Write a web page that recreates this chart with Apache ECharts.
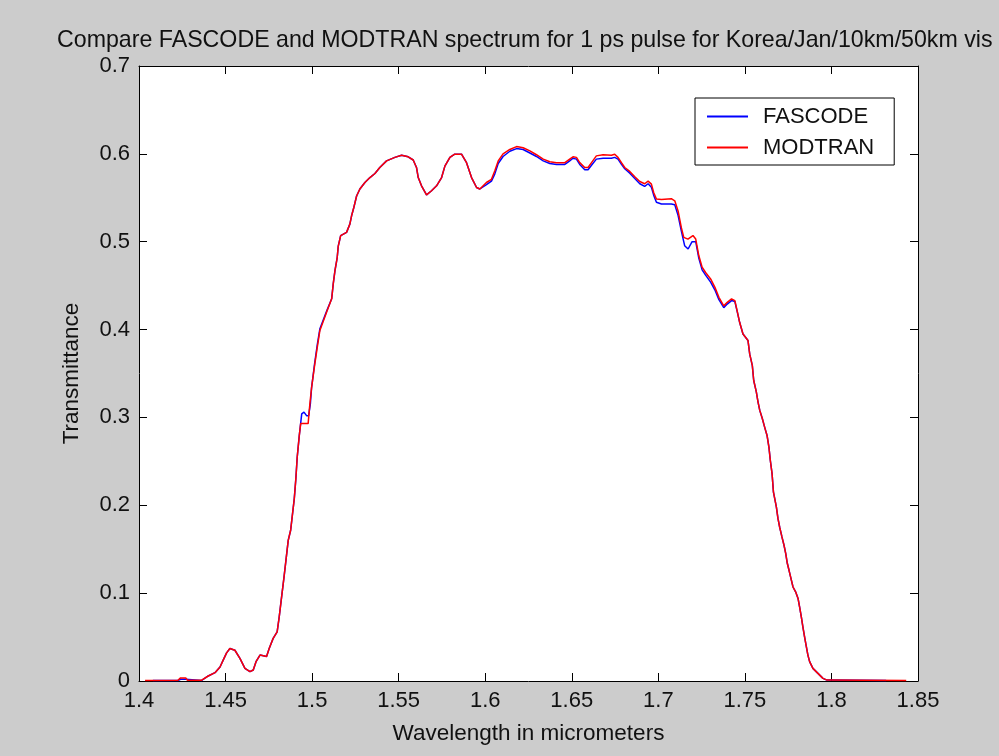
<!DOCTYPE html>
<html>
<head>
<meta charset="utf-8">
<script src="https://cdn.jsdelivr.net/npm/echarts@6/dist/echarts.min.js"></script>
<style>
html,body{margin:0;padding:0;background:#cccccc;}
#chart{width:999px;height:756px;}
</style>
</head>
<body>
<div id="chart"></div>
<script>
var titleText = "Compare FASCODE and MODTRAN spectrum for 1 ps pulse for Korea/Jan/10km/50km vis";
var xName = "Wavelength in micrometers";
var yName = "Transmittance";
var seriesNames = ["FASCODE", "MODTRAN"];
var xTicks = [1.4, 1.45, 1.5, 1.55, 1.6, 1.65, 1.7, 1.75, 1.8, 1.85];
var yTicks = [0, 0.1, 0.2, 0.3, 0.4, 0.5, 0.6, 0.7];

// MODTRAN (red)
var waveM = [1.4035,1.4225,1.424,1.427,1.428,1.436,1.440,1.4439,1.4468,1.4487,1.4506,1.4525,1.4554,1.4583,1.4612,1.4641,1.466,1.4676,1.4699,1.4737,1.4752,1.4775,1.4798,1.481,1.4824,1.4837,1.4849,1.4862,1.4876,1.4885,1.4897,1.4906,1.4914,1.4926,1.4934,1.4977,1.4987,1.4997,1.5015,1.503,1.5045,1.5084,1.5113,1.5122,1.5132,1.5145,1.5151,1.5165,1.5199,1.5218,1.5228,1.5241,1.5257,1.5276,1.5305,1.5334,1.5363,1.5391,1.543,1.5478,1.5517,1.5555,1.5584,1.5603,1.5613,1.5632,1.5661,1.569,1.5719,1.5748,1.5767,1.5796,1.5824,1.5863,1.5892,1.5921,1.595,1.5969,1.6007,1.6036,1.6055,1.6075,1.6103,1.6142,1.6181,1.6219,1.6258,1.6296,1.6335,1.6373,1.6412,1.646,1.6488,1.6507,1.6527,1.6546,1.6575,1.6594,1.6614,1.6642,1.6681,1.6729,1.6748,1.6767,1.6787,1.6806,1.6835,1.6864,1.6893,1.6921,1.6941,1.696,1.6973,1.6989,1.7018,1.7075,1.7095,1.7114,1.7133,1.7147,1.7171,1.72,1.7216,1.7234,1.7253,1.7273,1.7302,1.7327,1.735,1.7378,1.7398,1.7423,1.7442,1.7455,1.747,1.7489,1.7518,1.7528,1.7543,1.7551,1.7566,1.7576,1.7586,1.7601,1.7614,1.7628,1.7639,1.7647,1.7657,1.7665,1.7682,1.7691,1.7701,1.7714,1.7726,1.7736,1.7745,1.7755,1.7764,1.7778,1.7793,1.7807,1.7816,1.7826,1.7835,1.7845,1.7855,1.7864,1.7874,1.7893,1.7922,1.7951,1.7974,1.8432];
var transM = [0.0005,0.0008,0.0035,0.0035,0.0008,0.0008,0.0057,0.0095,0.016,0.024,0.032,0.037,0.035,0.0258,0.0144,0.0106,0.0125,0.022,0.0295,0.028,0.037,0.0485,0.056,0.073,0.096,0.117,0.1375,0.160,0.1716,0.187,0.2076,0.230,0.255,0.2795,0.293,0.293,0.3155,0.334,0.360,0.380,0.399,0.420,0.435,0.452,0.467,0.482,0.495,0.507,0.5106,0.520,0.5295,0.539,0.552,0.560,0.5674,0.573,0.5776,0.5845,0.592,0.596,0.5985,0.5966,0.593,0.5845,0.573,0.5636,0.5534,0.558,0.5636,0.573,0.586,0.596,0.5996,0.5996,0.590,0.573,0.5617,0.560,0.5674,0.571,0.5806,0.592,0.600,0.605,0.6083,0.607,0.6034,0.599,0.594,0.591,0.590,0.590,0.594,0.5966,0.596,0.590,0.5845,0.5845,0.590,0.5977,0.599,0.5985,0.5996,0.596,0.590,0.5845,0.580,0.574,0.5685,0.566,0.569,0.5655,0.556,0.5485,0.548,0.549,0.5466,0.535,0.516,0.505,0.503,0.507,0.503,0.484,0.471,0.465,0.4576,0.448,0.4367,0.427,0.431,0.435,0.433,0.4216,0.408,0.395,0.3875,0.372,0.359,0.342,0.329,0.3175,0.308,0.2985,0.289,0.2795,0.266,0.251,0.236,0.215,0.198,0.185,0.175,0.164,0.1545,0.145,0.134,0.126,0.1185,0.107,0.1015,0.094,0.0844,0.073,0.0617,0.050,0.039,0.0295,0.022,0.0144,0.0087,0.003,0.001,0.0005];

// FASCODE (blue)
var waveF = [1.408,1.4225,1.424,1.427,1.428,1.436,1.440,1.4439,1.4468,1.4487,1.4506,1.4525,1.4554,1.4583,1.4612,1.4641,1.466,1.4676,1.4699,1.4737,1.4752,1.4775,1.4798,1.481,1.4824,1.4837,1.4849,1.4862,1.4876,1.4885,1.4897,1.4906,1.4914,1.4926,1.494,1.4953,1.4968,1.498,1.499,1.4997,1.5015,1.503,1.5045,1.5084,1.5113,1.5122,1.5132,1.5145,1.5151,1.5165,1.5199,1.5218,1.5228,1.5241,1.5257,1.5276,1.5305,1.5334,1.5363,1.5391,1.543,1.5478,1.5517,1.5555,1.5584,1.5603,1.5613,1.5632,1.5661,1.569,1.5719,1.5748,1.5767,1.5796,1.5824,1.5863,1.5892,1.5921,1.595,1.5969,1.6007,1.6036,1.6055,1.6075,1.6103,1.6142,1.6181,1.6219,1.6258,1.6296,1.6335,1.6373,1.6412,1.646,1.6488,1.6507,1.6527,1.6546,1.6575,1.6594,1.6614,1.6642,1.6681,1.6729,1.6748,1.6767,1.6787,1.6806,1.6835,1.6864,1.6893,1.6921,1.6941,1.696,1.6973,1.6989,1.7018,1.7075,1.7095,1.7114,1.7133,1.7152,1.7172,1.7195,1.7216,1.7234,1.7253,1.7273,1.7302,1.7327,1.735,1.7378,1.7398,1.7423,1.7442,1.7455,1.747,1.7489,1.7518,1.7528,1.7543,1.7551,1.7566,1.7576,1.7586,1.7601,1.7614,1.7628,1.7639,1.7647,1.7657,1.7665,1.7682,1.7691,1.7701,1.7714,1.7726,1.7736,1.7745,1.7755,1.7764,1.7778,1.7793,1.7807,1.7816,1.7826,1.7835,1.7845,1.7855,1.7864,1.7874,1.7893,1.7922,1.7951,1.7974,1.8316];
var transF = [0.0005,0.0005,0.002,0.002,0.0005,0.0005,0.0057,0.0095,0.016,0.024,0.032,0.037,0.035,0.0258,0.0144,0.0106,0.0125,0.022,0.0295,0.028,0.037,0.0485,0.056,0.073,0.096,0.117,0.1375,0.160,0.1716,0.187,0.2076,0.230,0.255,0.2795,0.304,0.306,0.302,0.302,0.3155,0.334,0.362,0.383,0.401,0.421,0.435,0.452,0.467,0.482,0.495,0.507,0.5106,0.520,0.5295,0.539,0.552,0.560,0.5674,0.573,0.5776,0.5845,0.592,0.596,0.5985,0.5966,0.593,0.5845,0.573,0.5636,0.5534,0.558,0.5636,0.573,0.586,0.596,0.5996,0.5996,0.590,0.573,0.5617,0.560,0.565,0.569,0.577,0.589,0.597,0.603,0.606,0.605,0.601,0.597,0.592,0.589,0.588,0.588,0.592,0.595,0.594,0.588,0.582,0.582,0.587,0.594,0.595,0.595,0.596,0.594,0.588,0.583,0.578,0.572,0.566,0.563,0.566,0.562,0.553,0.545,0.543,0.543,0.542,0.530,0.512,0.4955,0.4917,0.500,0.500,0.481,0.468,0.462,0.454,0.445,0.434,0.425,0.429,0.433,0.432,0.421,0.408,0.395,0.3875,0.372,0.359,0.342,0.329,0.3175,0.308,0.2985,0.289,0.2795,0.266,0.251,0.236,0.215,0.198,0.185,0.175,0.164,0.1545,0.145,0.134,0.126,0.1185,0.107,0.1015,0.094,0.0844,0.073,0.0617,0.050,0.039,0.0295,0.022,0.0144,0.0087,0.003,0.001,0.0005];

function zip(xs, ys){ var out=[]; for(var i=0;i<xs.length;i++){ out.push([xs[i], ys[i]]); } return out; }
function fmt(v){ return String(parseFloat(Number(v).toFixed(2))); }

var FONT = 'Liberation Sans, Arial, sans-serif';
var TXT = '#111111';

var chart = echarts.init(document.getElementById('chart'), null, {renderer:'canvas'});
var option = {
  backgroundColor: '#cccccc',
  animation: false,
  title: {
    text: titleText,
    left: 57,
    top: 29,
    padding: 0,
    textStyle: {fontFamily: FONT, fontSize: 23.2, fontWeight: 'normal', color: TXT}
  },
  legend: {
    data: seriesNames,
    orient: 'vertical',
    left: 695,
    top: 98,
    backgroundColor: '#ffffff',
    borderColor: '#000000',
    borderWidth: 1,
    borderRadius: 0,
    padding: [7, 20, 6, 12],
    icon: 'rect',
    itemWidth: 41,
    itemHeight: 2,
    itemGap: 8,
    textStyle: {fontFamily: FONT, fontSize: 22, color: TXT, lineHeight: 23, padding: [0,0,0,10]}
  },
  grid: {left: 139, right: 81, top: 66, bottom: 75, show: true, backgroundColor: '#ffffff', borderWidth: 0},
  xAxis: [{
    type: 'value', min: xTicks[0], max: xTicks[xTicks.length-1], interval: 0.05,
    name: xName, nameLocation: 'middle', nameGap: 41,
    nameTextStyle: {fontFamily: FONT, fontSize: 22.5, color: TXT},
    axisLine: {show: true, onZero: false, lineStyle: {color: '#000', width: 1}},
    axisTick: {show: true, inside: true, length: 8, lineStyle: {color: '#000'}},
    axisLabel: {fontFamily: FONT, fontSize: 22, color: TXT, margin: 9, formatter: fmt},
    splitLine: {show: false}
  },{
    type: 'value', position: 'top', min: xTicks[0], max: xTicks[xTicks.length-1], interval: 0.05,
    axisLine: {show: true, onZero: false, lineStyle: {color: '#000', width: 1}},
    axisTick: {show: true, inside: true, length: 8, lineStyle: {color: '#000'}},
    axisLabel: {show: false}, splitLine: {show: false}
  }],
  yAxis: [{
    type: 'value', min: yTicks[0], max: yTicks[yTicks.length-1], interval: 0.1,
    name: yName, nameLocation: 'middle', nameGap: 56,
    nameTextStyle: {fontFamily: FONT, fontSize: 22.5, color: TXT},
    axisLine: {show: true, onZero: false, lineStyle: {color: '#000', width: 1}},
    axisTick: {show: true, inside: true, length: 8, lineStyle: {color: '#000'}},
    axisLabel: {fontFamily: FONT, fontSize: 22, color: TXT, margin: 9, formatter: fmt},
    splitLine: {show: false}
  },{
    type: 'value', position: 'right', min: yTicks[0], max: yTicks[yTicks.length-1], interval: 0.1,
    axisLine: {show: true, onZero: false, lineStyle: {color: '#000', width: 1}},
    axisTick: {show: true, inside: true, length: 8, lineStyle: {color: '#000'}},
    axisLabel: {show: false}, splitLine: {show: false}
  }],
  series: [{
    name: seriesNames[0], type: 'line', xAxisIndex: 0, yAxisIndex: 0,
    data: zip(waveF, transF), symbol: 'none', smooth: false,
    lineStyle: {color: '#0000ff', width: 1.5}, itemStyle: {color: '#0000ff'}
  },{
    name: seriesNames[1], type: 'line', xAxisIndex: 0, yAxisIndex: 0,
    data: zip(waveM, transM), symbol: 'none', smooth: false,
    lineStyle: {color: '#ff0000', width: 1.5}, itemStyle: {color: '#ff0000'}
  }]
};
chart.setOption(option);
</script>
</body>
</html>
